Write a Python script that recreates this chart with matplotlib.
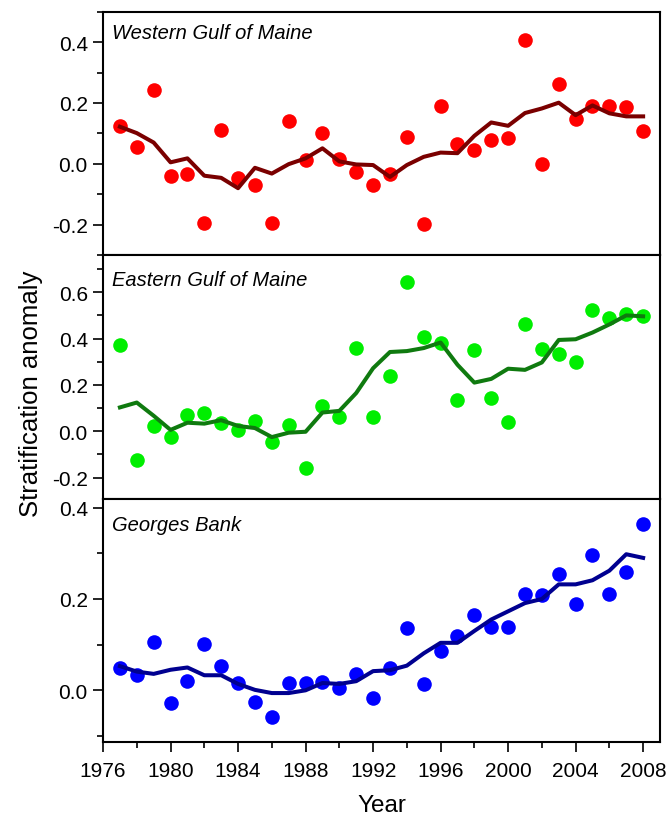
import matplotlib
matplotlib.use("Agg")
import matplotlib.pyplot as plt
from matplotlib.ticker import MultipleLocator

plt.rcParams['font.family'] = ['Liberation Sans', 'DejaVu Sans']

# years of the survey
years = list(range(1977, 2009))

# Western Gulf of Maine: yearly anomaly (dots) and smoothed (line)
wgom_pts = [0.125, 0.056, 0.243, -0.039, -0.032, -0.193, 0.110, -0.048,
            -0.069, -0.194, 0.140, 0.013, 0.102, 0.015, -0.026, -0.070,
            -0.032, 0.087, -0.197, 0.191, 0.065, 0.047, 0.079, 0.086,
            0.407, 0.000, 0.262, 0.148, 0.190, 0.190, 0.188, 0.107]
wgom_line = [0.122, 0.101, 0.070, 0.005, 0.018, -0.039, -0.046, -0.080,
             -0.013, -0.032, -0.001, 0.018, 0.051, 0.008, -0.002, -0.004,
             -0.043, -0.004, 0.023, 0.037, 0.035, 0.092, 0.136, 0.125,
             0.167, 0.182, 0.201, 0.160, 0.192, 0.166, 0.156, 0.156]

# Eastern Gulf of Maine
egom_pts = [0.371, -0.126, 0.022, -0.026, 0.071, 0.077, 0.036, 0.006,
            0.043, -0.047, 0.027, -0.160, 0.107, 0.062, 0.359, 0.062,
            0.237, 0.645, 0.406, 0.381, 0.136, 0.350, 0.145, 0.040,
            0.462, 0.353, 0.332, 0.297, 0.522, 0.487, 0.506, 0.497]
egom_line = [0.103, 0.124, 0.067, 0.006, 0.037, 0.033, 0.048, 0.023,
             0.014, -0.025, -0.006, -0.002, 0.081, 0.088, 0.165, 0.272,
             0.342, 0.346, 0.359, 0.383, 0.287, 0.210, 0.226, 0.270,
             0.265, 0.297, 0.394, 0.397, 0.426, 0.461, 0.500, 0.496]

# Georges Bank
gb_pts = [0.049, 0.034, 0.105, -0.028, 0.021, 0.102, 0.054, 0.016,
          -0.025, -0.059, 0.016, 0.016, 0.018, 0.006, 0.036, -0.016,
          0.048, 0.136, 0.014, 0.086, 0.118, 0.165, 0.139, 0.139,
          0.212, 0.208, 0.255, 0.188, 0.297, 0.210, 0.259, 0.364]
gb_line = [0.053, 0.041, 0.036, 0.045, 0.050, 0.033, 0.033, 0.014,
           0.001, -0.006, -0.006, 0.000, 0.016, 0.014, 0.020, 0.042,
           0.044, 0.054, 0.081, 0.104, 0.104, 0.130, 0.155, 0.173,
           0.191, 0.200, 0.232, 0.232, 0.241, 0.262, 0.298, 0.290]

panels = [
    ("Western Gulf of Maine", wgom_pts, wgom_line, "#ff0000", "#7a0000", (-0.3, 0.5), 0.915),
    ("Eastern Gulf of Maine", egom_pts, egom_line, "#00ee00", "#0f7a0f", (-0.29, 0.76), 0.90),
    ("Georges Bank", gb_pts, gb_line, "#0000ff", "#000090", (-0.113, 0.42), 0.895),
]

fig = plt.figure(figsize=(6.66, 8.2), dpi=100)
left, right = 0.1547, 0.991
bottom, top = 0.094, 0.9845
h = (top - bottom) / 3

for i, (name, pts, line, pcol, lcol, ylim, ty) in enumerate(panels):
    ax = fig.add_axes([left, top - (i + 1) * h, right - left, h])
    ax.plot(years, pts, "o", color=pcol, markersize=10.5, markeredgewidth=0, zorder=2)
    ax.plot(years, line, "-", color=lcol, linewidth=2.9, zorder=3)
    ax.set_xlim(1976, 2009)
    ax.set_ylim(*ylim)
    ax.xaxis.set_major_locator(MultipleLocator(4))
    ax.xaxis.set_minor_locator(MultipleLocator(2))
    ax.yaxis.set_major_locator(MultipleLocator(0.2))
    ax.yaxis.set_minor_locator(MultipleLocator(0.1))
    ax.yaxis.set_major_formatter(lambda v, p: "%.1f" % v)
    ax.tick_params(which="both", direction="out", top=False, right=False,
                   width=1.2, labelsize=15, pad=4)
    ax.tick_params(which="major", length=7)
    ax.tick_params(which="minor", length=4.5)
    ax.tick_params(axis="x", pad=7)
    for s in ax.spines.values():
        s.set_linewidth(1.5)
    if i < 2:
        ax.tick_params(axis="x", labelbottom=False)
    else:
        ax.set_xlabel("Year", fontsize=17.5, labelpad=10)
    ax.text(0.016, ty, name, transform=ax.transAxes, fontsize=14.5,
            style="italic", ha="left", va="center")

fig.text(0.047, 0.52, "Stratification anomaly", rotation=90, fontsize=18.5,
         ha="center", va="center")

fig.savefig("out.png", dpi=100)
